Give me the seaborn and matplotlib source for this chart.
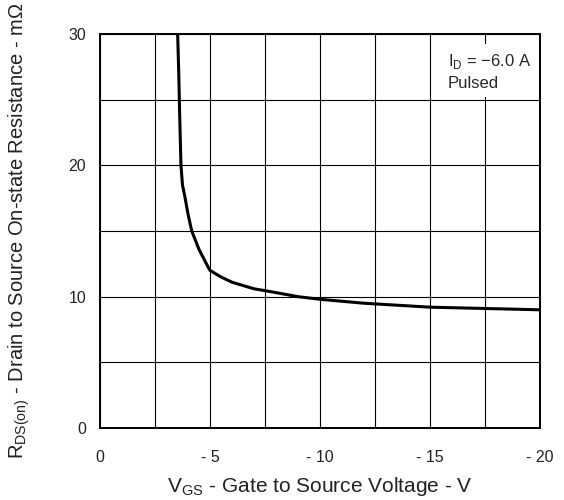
import seaborn as sns
import pandas as pd
import matplotlib.pyplot as plt

# (VGS in V, RDS(on) in mOhm)
vgs = [-3.53, -3.58, -3.62, -3.68, -3.75, -3.86, -4.0, -4.17, -4.5, -4.9, -5.0,
       -5.5, -6.0, -7.0, -7.7, -9.0, -10.0, -12.0, -15.0, -17.5, -20.0]
rds = [30.0, 27.0, 24.0, 20.0, 18.5, 17.6, 16.3, 15.0, 13.6, 12.3, 12.0,
       11.5, 11.1, 10.6, 10.4, 10.0, 9.8, 9.5, 9.2, 9.1, 9.0]

x_ticks = [0, -5, -10, -15, -20]
x_tick_labels = ['0', '- 5', '- 10', '- 15', '- 20']
y_ticks = [0, 10, 20, 30]

df = pd.DataFrame({'VGS': vgs, 'RDS': rds})

sns.set_style('white')
plt.rcParams['font.family'] = ['Liberation Sans', 'DejaVu Sans']
plt.rcParams['mathtext.fontset'] = 'custom'
plt.rcParams['mathtext.rm'] = 'Liberation Sans'

fig = plt.figure(figsize=(5.64, 5.0), dpi=100)
ax = fig.add_axes([0.1773, 0.144, 0.7801, 0.788])

sns.lineplot(x='VGS', y='RDS', data=df, ax=ax, color='black', linewidth=2.2,
             sort=False, estimator=None)

ax.set_xlim(0, -20)
ax.set_ylim(0, 30)
ax.set_xticks([-2.5 * i for i in range(9)], minor=True)
ax.set_yticks([5 * i for i in range(7)], minor=True)
ax.set_xticks(x_ticks)
ax.set_xticklabels(x_tick_labels)
ax.set_yticks(y_ticks)
ax.grid(which='both', color='black', linewidth=0.8)
ax.tick_params(which='both', length=0, labelsize=11.5, colors='#222222')
ax.tick_params(axis='x', pad=16)
ax.tick_params(axis='y', pad=10)
for s in ax.spines.values():
    s.set_linewidth(1.4)
    s.set_color('black')

ax.set_xlabel(r'V$_{\mathregular{GS}}$ - Gate to Source Voltage - V', fontsize=15,
              labelpad=7, color='#222222')
ax.set_ylabel(r'R$_{\mathregular{DS(on)}}$ - Drain to Source On-state Resistance - m$\mathregular{\Omega}$',
              fontsize=14.5, labelpad=26, color='#222222')

ax.text(-15.8, 27.15, 'I$_{\\mathregular{D}}$ = $-$6.0 A\nPulsed', fontsize=12,
        va='center', ha='left', linespacing=1.45,
        bbox=dict(facecolor='white', edgecolor='none', pad=4))

fig.savefig('out.png', dpi=100)
